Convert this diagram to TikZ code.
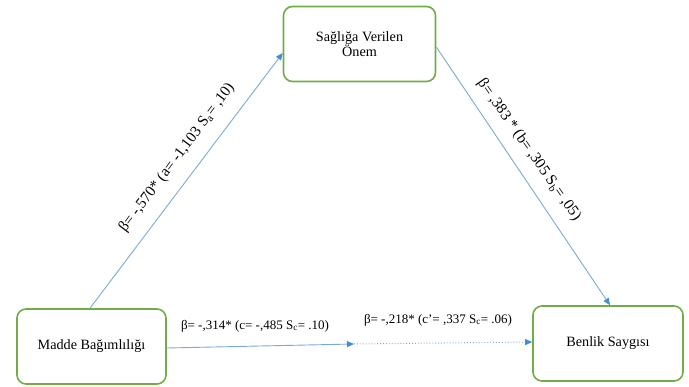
\documentclass[tikz,border=0pt]{standalone}
\usepackage{fontspec}
\setmainfont{Liberation Serif}
\usetikzlibrary{arrows.meta}
\definecolor{boxgreen}{RGB}{112,173,71}
\definecolor{lineblue}{RGB}{120,170,220}
\definecolor{tipblue}{RGB}{70,140,210}
\begin{document}
\begin{tikzpicture}[x=1pt,y=-1pt,
  varbox/.style={draw=boxgreen,line width=1.6pt,rounded corners=9pt,fill=white,align=center,font=\fontsize{14.2}{15}\selectfont,inner sep=0pt},
  conn/.style={draw=lineblue,line width=0.9pt,-{Triangle[length=7pt,width=6pt,fill=tipblue,color=tipblue]}},
  lbl/.style={font=\fontsize{13}{14}\selectfont,inner sep=1pt},
  rlbl/.style={font=\fontsize{15.3}{16}\selectfont,inner sep=1pt}]
\useasboundingbox (0,0) rectangle (689,387);
\node[varbox,minimum width=149pt,minimum height=75pt] (mb) at (91.5,346.5) {Madde Bağımlılığı};
\node[varbox,minimum width=152pt,minimum height=75pt] (sv) at (359.5,44) {Sağlığa Verilen\\Önem};
\node[varbox,minimum width=150pt,minimum height=75pt] (bs) at (608,343.5) {Benlik Saygısı};
\coordinate (mid) at (354,344);
\draw[conn] (mb.north -| 90,0) -- (sv.west |- 0,53);
\draw[conn] (sv.east |- 0,47) -- (bs.north -| 610,0);
\draw[conn] (mb.east |- 0,348) -- (mid);
\draw[conn,dotted,line width=1pt] (mid) -- (bs.west |- 0,342);
\node[rlbl,rotate=53.1] (la) at (177,158) {β= -,570* (a= -1,103 S\textsubscript{a}= ,10)};
\node[rlbl,rotate=-55] (lb) at (529,150) {β= ,383 * (b= ,305 S\textsubscript{b}= ,05)};
\node[lbl] (lc) at (255,326) {β= -,314* (c= -,485 S\textsubscript{c}= .10)};
\node[lbl] (ld) at (438,320) {β= -,218* (c'= ,337 S\textsubscript{c}= .06)};
\end{tikzpicture}
\end{document}
